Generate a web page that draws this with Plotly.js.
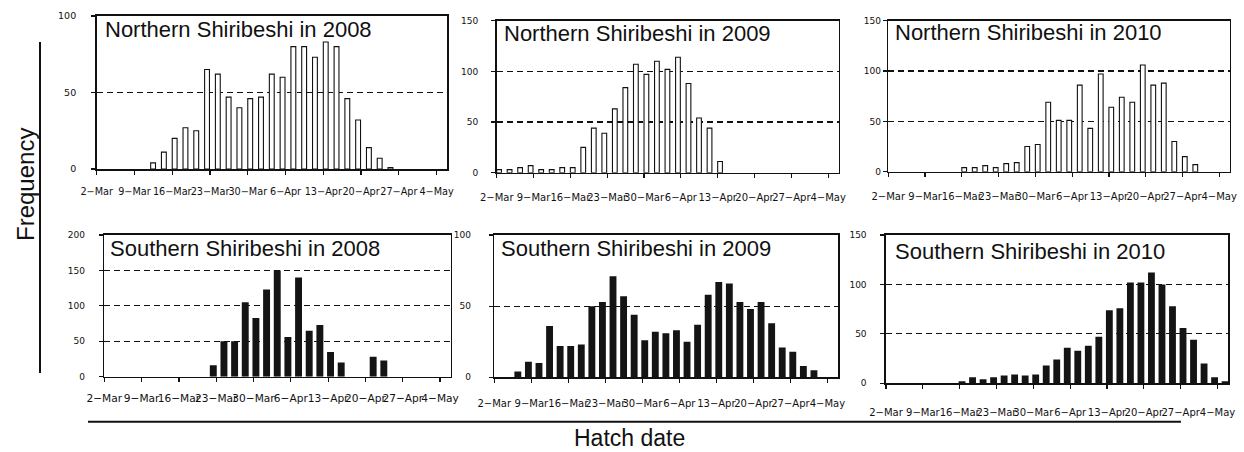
<!DOCTYPE html>
<html>
<head>
<meta charset="utf-8">
<script src="https://cdn.plot.ly/plotly-3.0.1.min.js"></script>
<style>html,body{margin:0;padding:0;background:#fff}</style>
</head>
<body>
<div id="chart" style="width:1244px;height:452px"></div>
<script>
// Two-day hatch bins (month-day), shared by every season
const binDates = ["03-02","03-04","03-06","03-08","03-10","03-12","03-14","03-16","03-18","03-20",
  "03-22","03-24","03-26","03-28","03-30","04-01","04-03","04-05","04-07","04-09",
  "04-11","04-13","04-15","04-17","04-19","04-21","04-23","04-25","04-27","04-29",
  "05-01","05-03","05-05"];

// Weekly date ticks
const tickDates = ["03-02","03-09","03-16","03-23","03-30","04-06","04-13","04-20","04-27","05-04"];
const tickLabels = ["2\u2212Mar","9\u2212Mar","16\u2212Mar","23\u2212Mar","30\u2212Mar","6\u2212Apr","13\u2212Apr","20\u2212Apr","27\u2212Apr","4\u2212May"];

// Hatch counts per two-day bin
const north2008 = [0,0,0,0,0,4,11,20,27,25,65,62,47,40,46,47,62,60,80,80,73,83,80,46,32,14,7,1,0,0,0,0,0];
const north2009 = [3,3,5,7,3,3,5,5,25,44,39,63,84,107,97,110,102,114,88,54,44,11,0,0,0,0,0,0,0,0,0,0,0];
const north2010 = [0,0,0,0,0,0,0,4,4,6,4,8,9,25,27,69,51,51,86,43,97,64,74,69,106,86,88,30,15,7,0,0,0];
const south2008 = [0,0,0,0,0,0,0,0,0,0,16,50,50,105,83,123,150,56,140,65,73,35,20,0,0,28,23,0,0,0,0,0,0];
const south2009 = [0,0,4,11,10,36,22,22,23,50,53,71,57,44,26,32,31,33,25,37,58,67,66,53,48,53,38,21,18,8,5,0,0];
const south2010 = [0,0,0,0,0,0,0,2,6,4,6,8,9,8,9,18,24,36,33,38,47,74,76,102,102,112,100,78,56,44,20,6,2];

const panelTitles = ["Northern Shiribeshi in 2008","Northern Shiribeshi in 2009","Northern Shiribeshi in 2010",
  "Southern Shiribeshi in 2008","Southern Shiribeshi in 2009","Southern Shiribeshi in 2010"];
const panelYears = [2008, 2009, 2010, 2008, 2009, 2010];
const panelCounts = [north2008, north2009, north2010, south2008, south2009, south2010];
const panelMax = [100, 150, 150, 200, 100, 150];

// Drawing setup: plot boxes in pixels [left, right, top, bottom]
const W = 1244, H = 452;
const boxes = [
  [96.7, 447.4, 16, 169],
  [496.7, 838.7, 20.7, 172.7],
  [888.3, 1229.7, 20.7, 171.7],
  [104.3, 450.7, 235, 376.7],
  [494.3, 838, 235, 377.3],
  [886, 1228, 235, 383.3]
];
const xFont = [9.7, 10, 10, 10.6, 10, 10];
const xStandoff = [9, 11, 11, 7, 12, 15];
const yStandoff = [13, 11, 0, 12, 16, 12];
const titlePos = [[103, 29], [501.7, 33.5], [893.3, 32.5], [108.3, 248.3], [499.3, 248.3], [892.7, 251.7]];

const DAY = 86400000;
const px = x => x / W;
const py = y => 1 - y / H;

const traces = [];
const layout = {
  width: W, height: H,
  margin: {l: 0, r: 0, t: 0, b: 0},
  paper_bgcolor: "#fff", plot_bgcolor: "#fff",
  showlegend: false, hovermode: false,
  font: {family: "Liberation Sans, Arial, sans-serif", color: "#000"},
  annotations: [], shapes: []
};

panelCounts.forEach((counts, i) => {
  const n = i + 1;
  const sfx = n === 1 ? "" : String(n);
  const year = panelYears[i];
  const south = i >= 3;
  const barW = south ? 1.3 : 0.9;
  traces.push({
    type: "bar",
    x: binDates.map(d => `${year}-${d}`),
    // empty bins leave no mark on the baseline
    y: counts.map(v => (v === 0 ? null : v)),
    xaxis: "x" + sfx,
    yaxis: "y" + sfx,
    width: barW * DAY,
    offset: (0.45 - barW / 2) * DAY,
    marker: south
      ? {color: "#141414", line: {width: 0}}
      : {color: "#ffffff", line: {color: "#111", width: 1.1}}
  });
  const b = boxes[i];
  const axisBase = {showline: true, mirror: true, linecolor: "#111", linewidth: 1.6,
    zeroline: false, ticks: "outside", ticklen: 4, tickwidth: 1.2, tickcolor: "#111",
    fixedrange: true};
  layout["xaxis" + sfx] = Object.assign({}, axisBase, {
    type: "date",
    domain: [px(b[0]), px(b[1])],
    anchor: "y" + sfx,
    range: [`${year}-03-02`, `${year}-05-06`],
    tickmode: "array",
    tickvals: tickDates.map(d => `${year}-${d}`),
    ticktext: tickLabels,
    tickangle: 0,
    ticklabelstandoff: xStandoff[i],
    showgrid: false,
    tickfont: {family: "DejaVu Sans", size: xFont[i], color: "#111"}
  });
  layout["yaxis" + sfx] = Object.assign({}, axisBase, {
    domain: [py(b[3]), py(b[2])],
    anchor: "x" + sfx,
    range: [0, panelMax[i]],
    dtick: 50,
    showgrid: true, gridcolor: "#111", gridwidth: 1.2, griddash: "6px,4px",
    ticklabelstandoff: yStandoff[i],
    tickfont: {family: "DejaVu Sans", size: i === 0 ? 9.5 : 9, color: "#111"}
  });
  layout.annotations.push({
    xref: "paper", yref: "paper",
    x: px(titlePos[i][0]), y: py(titlePos[i][1]),
    xanchor: "left", yanchor: "middle", showarrow: false,
    text: panelTitles[i],
    font: {family: "Liberation Sans, Arial, sans-serif", size: 22, color: "#111"}
  });
});

// Shared axis titles with their rule lines
layout.annotations.push({
  xref: "paper", yref: "paper", x: px(25), y: py(185),
  xanchor: "center", yanchor: "middle", showarrow: false, textangle: -90,
  text: "Frequency", font: {size: 24, color: "#111"}
});
layout.annotations.push({
  xref: "paper", yref: "paper", x: px(629), y: 0,
  xanchor: "center", yanchor: "bottom", showarrow: false, borderpad: 0,
  text: "Hatch date", font: {size: 23, color: "#111"}
});
layout.shapes.push({type: "line", xref: "paper", yref: "paper",
  x0: px(40), x1: px(40), y0: py(42), y1: py(373), line: {color: "#111", width: 2}});
layout.shapes.push({type: "line", xref: "paper", yref: "paper",
  x0: px(88), x1: px(1181), y0: py(421.7), y1: py(421.7), line: {color: "#111", width: 2}});

Plotly.newPlot("chart", traces, layout, {staticPlot: true, displayModeBar: false});
</script>
</body>
</html>
